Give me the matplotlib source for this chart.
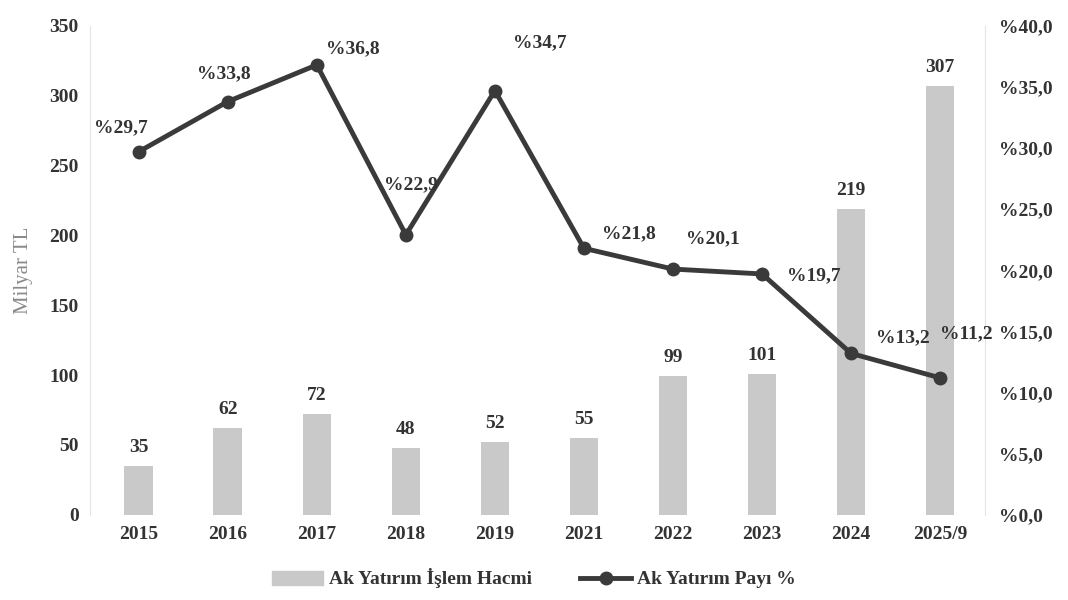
import matplotlib.pyplot as plt
from matplotlib.lines import Line2D
from matplotlib.patches import Patch

years = ['2015', '2016', '2017', '2018', '2019', '2021', '2022', '2023', '2024', '2025/9']
hacim = [35, 62, 72, 48, 52, 55, 99, 101, 219, 307]
pay = [29.7, 33.8, 36.8, 22.9, 34.7, 21.8, 20.1, 19.7, 13.2, 11.2]
pay_labels = ['%29,7', '%33,8', '%36,8', '%22,9', '%34,7', '%21,8', '%20,1', '%19,7', '%13,2', '%11,2']
# label offsets in pixels (dx, dy)
pay_offsets = [(-18, 24), (-4, 28), (36, 16), (5, 50), (45, 48), (45, 15), (40, 30), (52, -2), (52, 16), (26, 44)]
right_ticks = ['%0,0', '%5,0', '%10,0', '%15,0', '%20,0', '%25,0', '%30,0', '%35,0', '%40,0']

plt.rcParams['font.family'] = ['Liberation Serif', 'DejaVu Serif']
txt = '#333333'

fig = plt.figure(figsize=(10.68, 6), dpi=100)
ax = fig.add_axes([0.084, 0.142, 0.838, 0.815])
x = range(len(years))

ax.bar(x, hacim, width=0.32, color='#c9c9c9', zorder=1)
for i, v in enumerate(hacim):
    ax.annotate(str(v), (i, v), xytext=(0, 10), textcoords='offset pixels',
                ha='center', va='bottom', fontsize=14, color=txt, fontweight='bold')

ax.set_ylim(0, 350)
ax.set_yticks(range(0, 351, 50))
ax.set_xlim(-0.55, len(years) - 0.5)
ax.set_xticks(list(x))
ax.set_xticklabels(years)
ax.set_ylabel('Milyar TL', fontsize=15, color='#8a8a8a', labelpad=12)
ax.tick_params(axis='both', length=0, labelsize=14, colors=txt, pad=8)
for lab in ax.get_xticklabels() + ax.get_yticklabels():
    lab.set_fontweight('bold')
for s in ['top', 'right', 'bottom']:
    ax.spines[s].set_visible(False)
ax.spines['left'].set_color('#e4e4e4')

ax2 = ax.twinx()
ax2.plot(x, pay, color='#3a3a3a', lw=3.5, marker='o', markersize=9, zorder=3)
for i, (v, lab) in enumerate(zip(pay, pay_labels)):
    dx, dy = pay_offsets[i]
    ax2.annotate(lab, (i, v), xytext=(dx, dy), textcoords='offset pixels',
                 ha='center', va='center', fontsize=14, color=txt, fontweight='bold')
ax2.set_ylim(0, 40)
ax2.set_yticks(range(0, 41, 5))
ax2.set_yticklabels(right_ticks)
ax2.tick_params(axis='y', length=0, labelsize=14, colors=txt, pad=10)
for lab in ax2.get_yticklabels():
    lab.set_fontweight('bold')
for s in ['top', 'left', 'bottom']:
    ax2.spines[s].set_visible(False)
ax2.spines['right'].set_color('#e4e4e4')

handles = [Patch(color='#c9c9c9'),
           Line2D([0], [0], color='#3a3a3a', lw=3.5, marker='o', markersize=9)]
fig.legend(handles, ['Ak Yatırım İşlem Hacmi', 'Ak Yatırım Payı %'],
           loc='lower center', bbox_to_anchor=(0.5, -0.01), ncol=2, frameon=False,
           prop={'size': 14, 'weight': 'bold'}, labelcolor=txt,
           handlelength=2.6, columnspacing=2.5, handletextpad=0.3)

fig.savefig('out.png', dpi=100)
